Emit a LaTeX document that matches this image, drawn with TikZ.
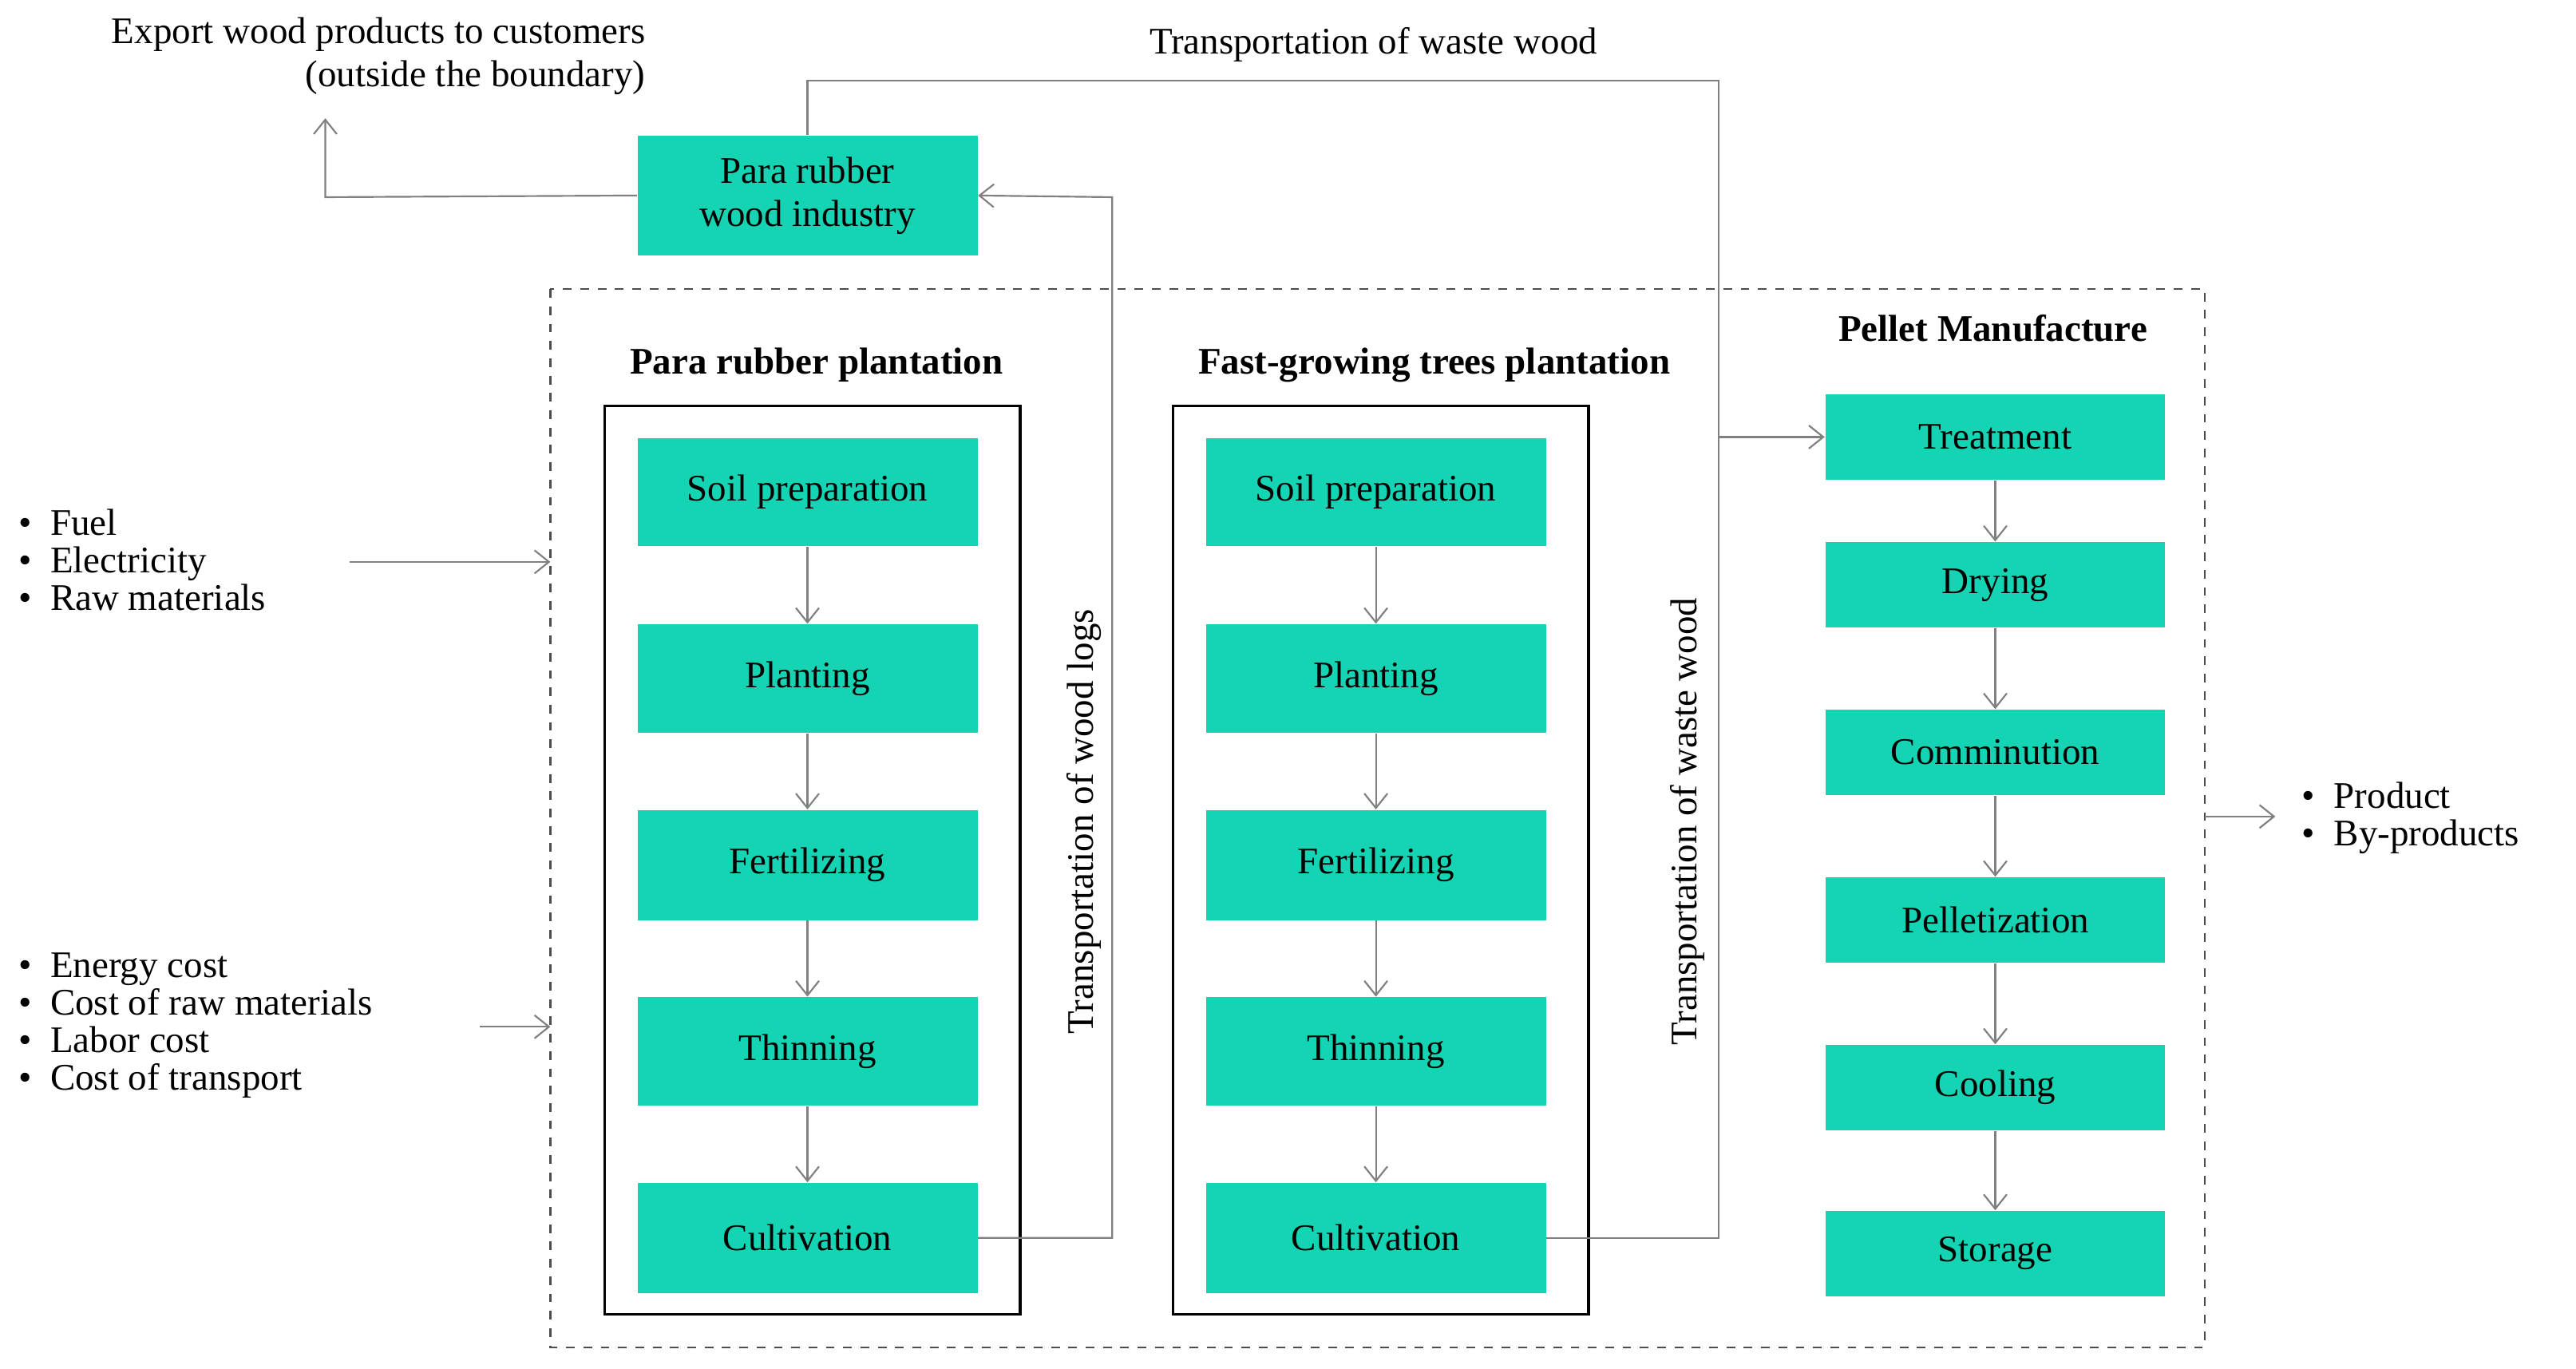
\documentclass[tikz,border=0pt]{standalone}
\usepackage{fontspec}
\setmainfont{Liberation Serif}
\usetikzlibrary{arrows.meta}
\definecolor{teal1}{HTML}{14D4B4}
\definecolor{ln}{HTML}{808080}
\begin{document}
\begin{tikzpicture}[x=0.02cm,y=-0.02cm,
  gb/.style={fill=teal1,draw=none,minimum width=4.14cm,inner sep=0,font=\fontsize{13}{15}\selectfont,align=center},
  con/.style={draw=ln,line width=0.6pt,-{Straight Barb[length=5pt,width=8pt]}},
  ln/.style={draw=ln,line width=0.6pt},
  tt/.style={font=\fontsize{13}{15}\selectfont},
  bt/.style={font=\bfseries\fontsize{13}{15}\selectfont}]
\useasboundingbox (0,0) rectangle (1568,833);
% industry
\node[gb,minimum height=1.46cm] (ind) at (491.5,119) {Para rubber\\wood industry};
\node[tt,align=right,anchor=east] (exp) at (399,34) {Export wood products to customers\\(outside the boundary)};
\coordinate (e1) at (198,120); \coordinate (e2) at (198,72);
\draw[con] (ind.west) -- (e1) -- (e2);
% boundary
\draw[ln,dashed,draw=black!70] (335,176) rectangle (1342,820);
\node[bt] (t1) at (497,222) {Para rubber plantation};
\node[bt] (t2) at (873,222) {Fast-growing trees plantation};
\node[bt] (t3) at (1213,200) {Pellet Manufacture};
\draw[line width=1pt] (368,247) rectangle (621,800);
\draw[line width=1pt] (714,247) rectangle (967,800);
\foreach \c/\x in {a/491.5,b/837.5}{
  \node[gb,minimum height=1.32cm] (\c1) at (\x,299.5) {Soil preparation};
  \node[gb,minimum height=1.32cm] (\c2) at (\x,413) {Planting};
  \node[gb,minimum height=1.34cm] (\c3) at (\x,526.5) {Fertilizing};
  \node[gb,minimum height=1.32cm] (\c4) at (\x,640) {Thinning};
  \node[gb,minimum height=1.34cm] (\c5) at (\x,753.5) {Cultivation};
  \draw[con] (\c1) -- (\c2); \draw[con] (\c2) -- (\c3); \draw[con] (\c3) -- (\c4); \draw[con] (\c4) -- (\c5);
}
\foreach \n/\y/\t in {p1/266/Treatment,p2/356/Drying,p3/458/Comminution,p4/560/Pelletization,p5/662/Cooling,p6/763/Storage}
  \node[gb,minimum height=1.04cm] (\n) at (1214.5,\y) {\t};
\draw[con] (p1) -- (p2); \draw[con] (p2) -- (p3); \draw[con] (p3) -- (p4); \draw[con] (p4) -- (p5); \draw[con] (p5) -- (p6);
% wood logs
\coordinate (w1) at (677,753.5); \coordinate (w2) at (677,120);
\draw[con] (a5.east) -- (w1) -- (w2) -- (ind.east);
\node[tt,rotate=90] (lw) at (660,500) {Transportation of wood logs};
% waste wood
\coordinate (v1) at (1046,753.5); \coordinate (v2) at (1046,49); \coordinate (v3) at (491.5,49); \coordinate (v4) at (1046,266);
\draw[ln] (b5.east) -- (v1) -- (v2) -- (v3) -- (ind.north);
\draw[con] (v4) -- (p1.west);
\node[tt] (lt) at (836,27) {Transportation of waste wood};
\node[tt,rotate=90] (lv) at (1027,500) {Transportation of waste wood};
% inputs
\node[tt,anchor=west,align=left] (in1) at (5,341) {\textbullet\enspace Fuel\\[-2pt]\textbullet\enspace Electricity\\[-2pt]\textbullet\enspace Raw materials};
\coordinate (i1a) at (213,342); \coordinate (i1b) at (335,342);
\draw[con] (i1a) -- (i1b);
\node[tt,anchor=west,align=left] (in2) at (5,624) {\textbullet\enspace Energy cost\\[-2pt]\textbullet\enspace Cost of raw materials\\[-2pt]\textbullet\enspace Labor cost\\[-2pt]\textbullet\enspace Cost of transport};
\coordinate (i2a) at (292,625); \coordinate (i2b) at (335,625);
\draw[con] (i2a) -- (i2b);
\node[tt,anchor=west,align=left] (out) at (1395,498) {\textbullet\enspace Product\\[-2pt]\textbullet\enspace By-products};
\coordinate (o1) at (1342,497); \coordinate (o2) at (1385,497);
\draw[con] (o1) -- (o2);
\end{tikzpicture}
\end{document}
